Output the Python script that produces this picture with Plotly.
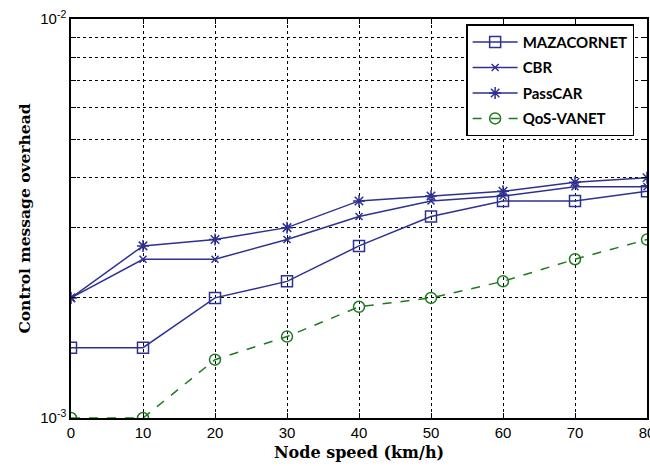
import plotly.graph_objects as go

speed = [0, 10, 20, 30, 40, 50, 60, 70, 80]
mazacornet = [1.5e-3, 1.5e-3, 2.0e-3, 2.2e-3, 2.7e-3, 3.2e-3, 3.5e-3, 3.5e-3, 3.7e-3]
cbr = [2.0e-3, 2.5e-3, 2.5e-3, 2.8e-3, 3.2e-3, 3.5e-3, 3.6e-3, 3.8e-3, 3.8e-3]
passcar = [2.0e-3, 2.7e-3, 2.8e-3, 3.0e-3, 3.5e-3, 3.6e-3, 3.7e-3, 3.9e-3, 4.0e-3]
qos_vanet = [1.0e-3, 1.0e-3, 1.4e-3, 1.6e-3, 1.9e-3, 2.0e-3, 2.2e-3, 2.5e-3, 2.8e-3]

x_ticks = [0, 10, 20, 30, 40, 50, 60, 70, 80]
y_grid = [1e-3, 2e-3, 3e-3, 4e-3, 5e-3, 6e-3, 7e-3, 8e-3, 9e-3, 1e-2]
y_labels = ["10<sup>-3</sup>", "", "", "", "", "", "", "", "", "10<sup>-2</sup>"]

blue = "#2e3192"
green = "#1f7a1f"

fig = go.Figure()
fig.add_trace(go.Scatter(x=speed, y=mazacornet, name="MAZACORNET", mode="lines+markers",
                         legendgroup="a",
                         line=dict(color=blue, width=1.5),
                         marker=dict(symbol="square-open", size=11, color=blue, line=dict(width=1.5))))
fig.add_trace(go.Scatter(x=speed, y=cbr, name="CBR", mode="lines+markers",
                         legendgroup="b",
                         line=dict(color=blue, width=1.5),
                         marker=dict(symbol="x-thin-open", size=7, color=blue, line=dict(width=1.5, color=blue))))
fig.add_trace(go.Scatter(x=speed, y=passcar, name="PassCAR", mode="lines+markers",
                         legendgroup="c",
                         line=dict(color=blue, width=1.5),
                         marker=dict(symbol="asterisk-open", size=10, color=blue, line=dict(width=1.5, color=blue))))
fig.add_trace(go.Scatter(x=speed, y=qos_vanet, name="QoS-VANET", mode="lines+markers",
                         legendgroup="d",
                         line=dict(color=green, width=1.5, dash="dash"),
                         marker=dict(symbol="circle-open", size=11, color=green, line=dict(width=1.5))))

fig.update_layout(
    width=650, height=466,
    margin=dict(l=71, r=3, t=19, b=48),
    paper_bgcolor="white", plot_bgcolor="white",
    font=dict(family="Liberation Sans, Arial, sans-serif", size=15, color="black"),
    showlegend=True,
    legend=dict(x=0.686, y=0.987, xanchor="left", yanchor="top",
                bgcolor="white", bordercolor="black", borderwidth=1.5,
                font=dict(family="Lato, Open Sans, sans-serif", size=15, color="black", weight="bold"),
                itemwidth=45, tracegroupgap=3),
)
fig.update_xaxes(
    range=[0, 80], tickvals=x_ticks, ticks="inside", ticklen=5, tickcolor="black",
    showline=True, linecolor="black", linewidth=1.5, mirror="ticks",
    showgrid=True, gridcolor="black", griddash="dot", gridwidth=1,
    zeroline=False, ticklabeloverflow="allow", automargin=False,
    title=dict(text="<b>Node speed (km/h)</b>", standoff=7,
               font=dict(family="DejaVu Serif, serif", size=16)),
    tickfont=dict(size=15),
)
fig.update_yaxes(
    type="log", range=[-3, -2], tickvals=y_grid, ticktext=y_labels,
    ticks="inside", ticklen=5, tickcolor="black",
    showline=True, linecolor="black", linewidth=1.5, mirror="ticks",
    showgrid=True, gridcolor="black", griddash="dot", gridwidth=1,
    zeroline=False, automargin=False,
    title=dict(text="<b>Control message overhead</b>", standoff=6,
               font=dict(family="DejaVu Serif, serif", size=15.5)),
    tickfont=dict(size=15),
)

fig.write_html("out.html")
